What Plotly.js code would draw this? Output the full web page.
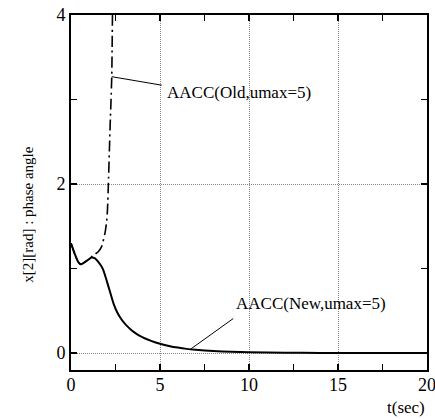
<!DOCTYPE html>
<html><head><meta charset="utf-8">
<script src="https://cdn.plot.ly/plotly-3.0.1.min.js"></script>
<style>html,body{margin:0;padding:0;background:#fff}</style>
</head><body><div id="plot" style="width:435px;height:419px"></div>
<script>
var tNew = [0,0.2,0.4,0.56,0.8,1.0,1.16,1.35,1.53,1.7,1.82,2.0,2.2,2.4,2.6,2.8,3.0,3.2,3.4,3.7,4.0,4.5,5,5.5,6,6.5,7,8,9,10,12,14,16,18,20];
var xNew = [1.30,1.18,1.08,1.05,1.08,1.11,1.13,1.12,1.08,1.03,0.98,0.86,0.72,0.58,0.48,0.41,0.355,0.31,0.27,0.225,0.19,0.145,0.11,0.085,0.065,0.05,0.04,0.025,0.015,0.01,0.004,0.002,0.001,0,0];
var tOld = [0,0.2,0.4,0.56,0.8,1.0,1.16,1.35,1.53,1.72,1.91,2.0,2.05,2.1,2.15,2.2,2.25,2.29,2.31,2.33];
var xOld = [1.30,1.18,1.08,1.05,1.08,1.11,1.14,1.17,1.20,1.26,1.42,1.55,1.70,2.0,2.35,2.7,3.0,3.27,3.6,4.0];
var xTicks = [0,5,10,15,20];
var xMinor = [2.5,7.5,12.5,17.5];
var yTicks = [0,2,4];
var yMinor = [1,3];
var labelOld = "AACC(Old,umax=5)";
var labelNew = "AACC(New,umax=5)";
var xTitle = "t(sec)";
var yTitle = "x[2][rad] : phase angle";
var font = "'Liberation Serif', 'Times New Roman', Times, serif";

var traces = [
  {x:tOld, y:xOld, mode:'lines', line:{color:'#000', width:1.6, dash:'11px,4px,2px,4px', shape:'spline', smoothing:0.5}, hoverinfo:'skip'},
  {x:tNew, y:xNew, mode:'lines', line:{color:'#000', width:2, shape:'spline', smoothing:0.7}, hoverinfo:'skip'}
];
var axCommon = {
  showline:true, linecolor:'#000', linewidth:2, mirror:'ticks',
  ticks:'inside', ticklen:6, tickwidth:1.5, tickcolor:'#000', tickmode:'array',
  showgrid:true, gridcolor:'#888', griddash:'1px,1px', gridwidth:1,
  zeroline:false, ticklabeloverflow:'allow', tickfont:{family:font, size:18, color:'#000'}
};
var layout = {
  width:435, height:419,
  margin:{l:71, r:8, t:15, b:49},
  paper_bgcolor:'#fff', plot_bgcolor:'#fff',
  showlegend:false,
  font:{family:font, color:'#000'},
  xaxis: Object.assign({}, axCommon, {range:[0,20], tickvals:xTicks, ticktext:xTicks.map(String), ticklabelstandoff:-3,
     minor:{tickmode:'array', tickvals:xMinor, ticks:'inside', ticklen:6, tickwidth:1.5, tickcolor:'#000', showgrid:false}}),
  yaxis: Object.assign({}, axCommon, {range:[-0.2,4], tickvals:yTicks, ticktext:yTicks.map(String),
     minor:{tickmode:'array', tickvals:yMinor, ticks:'inside', ticklen:6, tickwidth:1.5, tickcolor:'#000', showgrid:false}}),
  annotations:[
    {x:2.29, y:3.27, xref:'x', yref:'y', text:' ', showarrow:true, arrowhead:0, arrowwidth:1, arrowcolor:'#000', ax:53, ay:9, standoff:0},
    {x:2.29, y:3.27, xref:'x', yref:'y', text:labelOld, showarrow:false, xanchor:'left', yanchor:'middle', xshift:53, yshift:-16, font:{family:font, size:17, color:'#000'}},
    {x:6.7, y:0.044, xref:'x', yref:'y', text:' ', showarrow:true, arrowhead:0, arrowwidth:1, arrowcolor:'#000', ax:46, ay:-33, standoff:0},
    {x:6.7, y:0.044, xref:'x', yref:'y', text:labelNew, showarrow:false, xanchor:'left', yanchor:'middle', xshift:44, yshift:46, font:{family:font, size:17, color:'#000'}},
    {x:-0.149, y:0.44, xref:'paper', yref:'paper', text:yTitle, showarrow:false, textangle:-90, font:{family:font, size:15, color:'#000'}},
    {x:1, y:-0.107, xref:'paper', yref:'paper', text:xTitle, showarrow:false, xanchor:'right', yanchor:'middle', font:{family:font, size:17, color:'#000'}}
  ]
};
Plotly.newPlot('plot', traces, layout, {displayModeBar:false, staticPlot:true});
</script></body></html>
